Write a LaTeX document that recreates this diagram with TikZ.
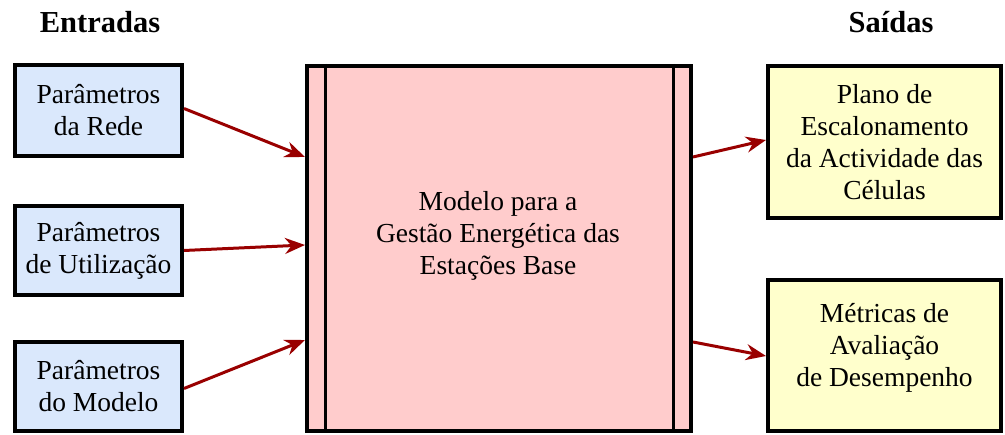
\documentclass[tikz,border=0pt]{standalone}
\usepackage{fontspec}
\setmainfont{Liberation Serif}
\usetikzlibrary{arrows.meta}
\definecolor{inblue}{HTML}{DAE8FC}
\definecolor{midpink}{HTML}{FFCCCC}
\definecolor{outyellow}{HTML}{FFFFCC}
\definecolor{arrowred}{HTML}{990000}
\tikzset{
  txt/.style={font=\fontsize{27.5}{32}\selectfont, align=center},
  inbox/.style={txt, draw=black, line width=4pt, fill=inblue, minimum width=167pt, inner sep=0pt},
  outbox/.style={txt, draw=black, line width=4pt, fill=outyellow, minimum width=233pt, inner sep=0pt},
  flow/.style={draw=arrowred, line width=3pt, -{Stealth[length=20pt,width=16pt]}},
  title/.style={font=\fontsize{30.5}{34}\selectfont\bfseries}
}
\begin{document}
\begin{tikzpicture}[x=1pt,y=-1pt]
\useasboundingbox (0,0) rectangle (1005,435);
% titles
\node[title] (tin) at (100,22) {Entradas};
\node[title] (tout) at (891,22) {Saídas};
% input boxes
\node[inbox, minimum height=91pt] (p1) at (98.5,110.5) {Parâmetros\\da Rede};
\node[inbox, minimum height=89pt] (p2) at (98.5,250.5) {Parâmetros\\de Utilização};
\node[inbox, minimum height=89pt] (p3) at (98.5,386.5) {Parâmetros\\do Modelo};
% central box
\node[draw=black, line width=4pt, fill=midpink, minimum width=384pt, minimum height=365pt, inner sep=0pt] (m) at (499,248.5) {};
\draw[line width=3pt] ([xshift=20pt]m.north west) coordinate (ml1) -- ([xshift=20pt]m.south west);
\draw[line width=3pt] ([xshift=-20pt]m.north east) coordinate (mr1) -- ([xshift=-20pt]m.south east);
\node[txt] (mt) at (498,236) {Modelo para a\\Gestão Energética das\\Estações Base};
% output boxes
\node[outbox, minimum height=152pt] (o1) at (884.5,142) {Plano de\\Escalonamento\\da Actividade das\\Células};
\node[outbox, minimum height=151pt] (o2) at (884.5,355.5) {};
\node[txt] (o2t) at (884.5,348) {Métricas de\\Avaliação\\de Desempenho};
% anchor points on the central box
\coordinate (mi1) at (305,157);
\coordinate (mi2) at (305,245);
\coordinate (mi3) at (305,340);
\coordinate (mo1) at (693,157);
\coordinate (mo2) at (693,342);
\coordinate (oi1) at (766,140);
\coordinate (oi2) at (766,356);
% connectors
\draw[flow] ([yshift=2pt]p1.east) -- (mi1);
\draw[flow] (p2.east) -- (mi2);
\draw[flow] ([yshift=-2pt]p3.east) -- (mi3);
\draw[flow] (mo1) -- (oi1);
\draw[flow] (mo2) -- (oi2);
\end{tikzpicture}
\end{document}
